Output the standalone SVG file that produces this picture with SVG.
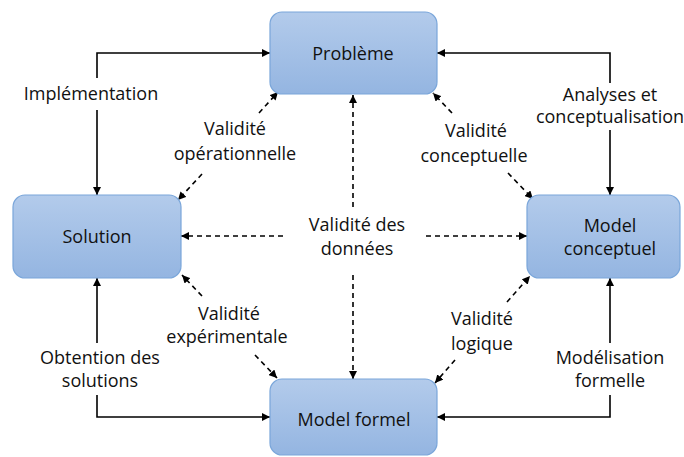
<svg xmlns="http://www.w3.org/2000/svg" width="684" height="457" viewBox="0 0 684 457">
  <defs>
    <linearGradient id="fillGrad" x1="0" y1="0" x2="0" y2="1">
      <stop offset="0" stop-color="#b3cbeb"/>
      <stop offset="1" stop-color="#94b5e1"/>
    </linearGradient>
    <marker id="arr" viewBox="0 0 10 10" refX="10" refY="5" markerWidth="8" markerHeight="8" markerUnits="userSpaceOnUse" orient="auto-start-reverse">
      <path d="M0,0 L10,5 L0,10 Z" fill="#000"/>
    </marker>
    <style>
      .node rect { fill: url(#fillGrad); stroke: #7aa6da; stroke-width: 1.2; }
      .lbl { font-family: "Open Sans", "Liberation Sans", sans-serif; font-size: 18px; fill: #111; text-anchor: middle; }
      .solid { fill: none; stroke: #000; stroke-width: 1.6; }
      .dash { fill: none; stroke: #000; stroke-width: 1.6; stroke-dasharray: 5 4; }
    </style>
  </defs>
  <rect width="684" height="457" fill="#fff"/>

  <g id="connectors">
    <!-- solid -->
    <path class="solid" d="M97,78 V53 H270" marker-end="url(#arr)"/>
    <path class="solid" d="M97,110 V195" marker-end="url(#arr)"/>
    <path class="solid" d="M610,83 V53 H437" marker-end="url(#arr)"/>
    <path class="solid" d="M610,130 V195" marker-end="url(#arr)"/>
    <path class="solid" d="M97,343 V278" marker-end="url(#arr)"/>
    <path class="solid" d="M97,395 V417 H270" marker-end="url(#arr)"/>
    <path class="solid" d="M610,343 V278" marker-end="url(#arr)"/>
    <path class="solid" d="M610,395 V417 H437" marker-end="url(#arr)"/>
    <!-- dashed vertical/horizontal -->
    <path class="dash" d="M353,207 V95" marker-end="url(#arr)"/>
    <path class="dash" d="M353,275 V379" marker-end="url(#arr)"/>
    <path class="dash" d="M283,236 H181" marker-end="url(#arr)"/>
    <path class="dash" d="M426,236 H527" marker-end="url(#arr)"/>
    <!-- dashed diagonals -->
    <path class="dash" d="M259,113 L278,92" marker-end="url(#arr)"/>
    <path class="dash" d="M202,174 L178,200" marker-end="url(#arr)"/>
    <path class="dash" d="M452,113 L433,93" marker-end="url(#arr)"/>
    <path class="dash" d="M508,173 L533,199" marker-end="url(#arr)"/>
    <path class="dash" d="M202,296 L182,275" marker-end="url(#arr)"/>
    <path class="dash" d="M255,355 L277,378" marker-end="url(#arr)"/>
    <path class="dash" d="M507,302 L530,276" marker-end="url(#arr)"/>
    <path class="dash" d="M455,360 L435,383" marker-end="url(#arr)"/>
  </g>

  <g id="node-probleme" class="node">
    <rect x="270" y="12" width="167" height="82" rx="12"/>
    <text class="lbl" x="353" y="60">Problème</text>
  </g>
  <g id="node-solution" class="node">
    <rect x="13" y="195" width="168" height="83" rx="12"/>
    <text class="lbl" x="97" y="243">Solution</text>
  </g>
  <g id="node-model-conceptuel" class="node">
    <rect x="527" y="195" width="153" height="83" rx="12"/>
    <text class="lbl" x="610" y="232">Model</text>
    <text class="lbl" x="610" y="255">conceptuel</text>
  </g>
  <g id="node-model-formel" class="node">
    <rect x="270" y="379" width="167" height="76" rx="12"/>
    <text class="lbl" x="354" y="426">Model formel</text>
  </g>

  <g id="labels">
    <text class="lbl" x="91" y="100">Implémentation</text>
    <text class="lbl" x="610" y="101">Analyses et</text>
    <text class="lbl" x="610" y="123">conceptualisation</text>
    <text class="lbl" x="100" y="364">Obtention des</text>
    <text class="lbl" x="100" y="387">solutions</text>
    <text class="lbl" x="610" y="364">Modélisation</text>
    <text class="lbl" x="610" y="387">formelle</text>
    <text class="lbl" x="235" y="135">Validité</text>
    <text class="lbl" x="235" y="160">opérationnelle</text>
    <text class="lbl" x="476" y="137">Validité</text>
    <text class="lbl" x="474" y="162">conceptuelle</text>
    <text class="lbl" x="229" y="320">Validité</text>
    <text class="lbl" x="227" y="343">expérimentale</text>
    <text class="lbl" x="482" y="325">Validité</text>
    <text class="lbl" x="482" y="350">logique</text>
    <text class="lbl" x="357" y="231">Validité des</text>
    <text class="lbl" x="357" y="255">données</text>
  </g>
</svg>
